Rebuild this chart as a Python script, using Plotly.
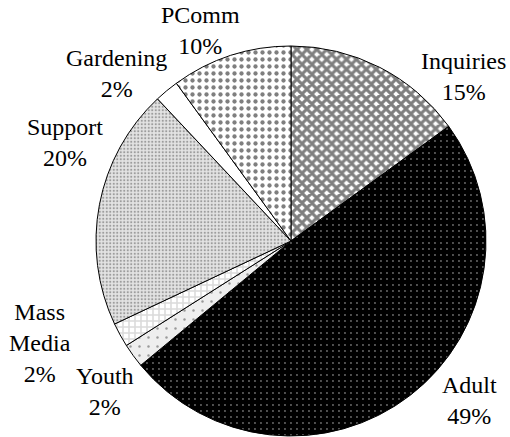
import plotly.graph_objects as go

labels = ["Inquiries", "Adult", "Youth", "Mass Media", "Support", "Gardening", "PComm"]
values = [15, 49, 2, 2, 20, 2, 10]
label_text = ["Inquiries<br>15%", "Adult<br>49%", "Youth<br>2%", "Mass<br>Media<br>2%",
              "Support<br>20%", "Gardening<br>2%", "PComm<br>10%"]

bg_colors = ["#ffffff", "#000000", "#eeeeee", "#ffffff", "#e3e3e3", "#ffffff", "#ffffff"]
fg_colors = ["#000000", "#d8d8d8", "#444444", "#b5b5b5", "#555555", "#ffffff", "#000000"]
shapes = ["x", ".", ".", "+", ".", "", "."]
sizes = [7, 6, 9, 6, 3.5, 8, 7]
solidities = [0.68, 0.08, 0.06, 0.45, 0.3, 0.1, 0.3]

# label placement (pixels from top-left), in same order as labels
label_x = [463, 469, 105, 40, 65, 116, 200]
label_y = [76, 400, 391, 343, 142, 73, 31]

W, H = 510, 437
cx, cy, r = 291, 241, 195

fig = go.Figure(go.Pie(
    labels=labels,
    values=values,
    sort=False,
    direction="clockwise",
    rotation=0,
    textinfo="none",
    hoverinfo="label+percent",
    showlegend=False,
    marker=dict(
        colors=bg_colors,
        line=dict(color="#000000", width=1),
        pattern=dict(shape=shapes, fgcolor=fg_colors, bgcolor=bg_colors,
                     size=sizes, solidity=solidities, fillmode="overlay"),
    ),
    domain=dict(x=[(cx - r) / W, (cx + r) / W], y=[(H - cy - r) / H, (H - cy + r) / H]),
))

for t, x, y in zip(label_text, label_x, label_y):
    fig.add_annotation(
        text=t, x=x / W, y=1 - y / H, xref="paper", yref="paper",
        showarrow=False, xanchor="center", yanchor="middle", align="center",
        font=dict(family="Liberation Serif", size=24, color="#000000"),
    )

fig.update_layout(
    width=W, height=H,
    margin=dict(l=0, r=0, t=0, b=0),
    paper_bgcolor="#ffffff",
    plot_bgcolor="#ffffff",
)

fig.write_html("out.html", config={"displayModeBar": False},
               post_script="document.body.style.margin='0';")
